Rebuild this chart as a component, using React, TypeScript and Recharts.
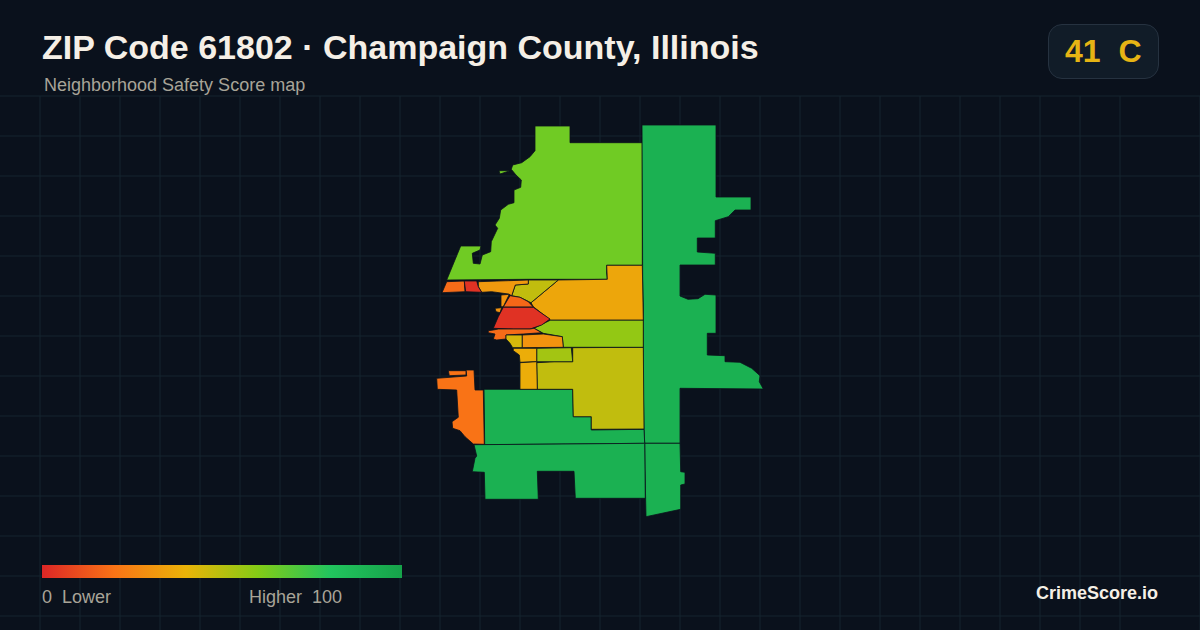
import React from 'react';
import { ScatterChart, Scatter, XAxis, YAxis, CartesianGrid } from 'recharts';

type Pt = [number, number];

// outlines, in map units
const northLime: Pt[] = [[535,126],[570,126],[570,142.7],[642.3,142.7],[642.3,265.3],[606.7,265.3],[606.7,273],[607.3,279.3],[528.3,279.3],[446.7,280],[460.7,246],[481,246],[480,250],[472.3,253.3],[473.3,263.3],[480,264],[482.3,255],[490.7,251.7],[491.3,241.7],[497.7,228.3],[495,225],[499.3,218.3],[500.7,210],[508.3,204.3],[514,202.7],[514,190],[520.7,187.3],[521.3,180],[516,175],[511.3,169.3],[512.7,165],[521.7,162.7],[530,156.7],[535,150.7]];
const limeIsland: Pt[] = [[499,170.7],[510,170.7],[500,174]];
const eastGreen: Pt[] = [[642,125],[716,125],[716,197],[751,197],[751,210],[735,210],[728.3,216.7],[715.3,220.7],[715.3,238],[697.3,238],[697.3,252],[715.3,253.3],[715.3,265],[680,265],[680,296],[688,299.3],[698,298.7],[705,294.3],[716,295],[716,333.3],[707.3,333.3],[707.3,355],[725,355.7],[725,361.7],[740,362.3],[751.7,368.3],[760,375.7],[759.3,381.7],[763.3,389],[680,388.3],[680,443.3],[644.7,443.3],[644,429],[643.3,388.3],[643.3,310],[642.7,280]];
const southEastGreen: Pt[] = [[644.7,443.3],[680,443.3],[680.7,471.7],[685,472.3],[685,484],[680.7,485],[680.7,509.3],[646,516.7],[645,470]];
const midGreen: Pt[] = [[484,389.3],[572.7,389.3],[573.3,416.7],[591.3,416.7],[591.3,430],[644,429.3],[644.7,443.3],[565,444],[484.7,444.7]];
const southGreen: Pt[] = [[474,444.7],[565,444],[644.7,443.3],[645.3,498.3],[575.3,498.3],[574,471.3],[537.3,471.3],[538.3,499.3],[485,499.3],[484.3,472.3],[472.3,471.7],[475,458.3],[476.7,456]];
const westOrange: Pt[] = [[474,370],[475,390],[483.3,390],[484.3,444.3],[473.3,444],[465,436.7],[460,430.7],[452.7,428.3],[452,421.7],[458.3,417.3],[456.7,390],[437.3,389.3],[436.7,378.3],[466.7,376],[466,370]];
const westOrangeTop: Pt[] = [[448.3,370.7],[466,370.7],[466,375],[449.3,375.7]];
const southOlive: Pt[] = [[572.7,347.7],[643.3,347.3],[644,429],[591.3,429.3],[591.3,416.7],[573.3,416.7],[572.7,389.3],[537.3,389.3],[536.7,362.7],[554.3,361.7],[572.7,361.7]];
const smallBox: Pt[] = [[536.7,348.3],[571.3,347.7],[572.7,361.7],[536.7,361.7]];
const limeBand: Pt[] = [[550.7,320],[643.3,320],[643.3,347.3],[563.3,347.3],[562.3,336.7],[543.3,333.3],[534,328.3]];
const amberBig: Pt[] = [[606.7,265.3],[642.3,265.3],[643.3,320],[550.7,320],[541.7,313.3],[533.3,306.7],[531,302.7],[558.3,280],[607.3,279.3]];
const oliveWedge: Pt[] = [[528.3,280],[558.3,280],[531,302.7],[520,297.3],[511.7,295.7],[515.3,285],[528.3,284]];
const amberStrip: Pt[] = [[478.3,281.7],[528.3,280],[528.3,284],[515.3,285],[511.7,295.7],[508.3,294],[491.7,291.7],[481.7,292.3],[478.3,286.7]];
const farWestOrange: Pt[] = [[446.7,281.7],[464.3,281],[465,291.7],[442,292.7]];
const farWestRed: Pt[] = [[464.3,281],[476.7,281],[478.3,286.7],[481.7,292.3],[465.7,291.7]];
const sliver: Pt[] = [[501,295],[509.3,294.3],[503.3,306.7],[501,306.7]];
const sliverTip: Pt[] = [[495,308.3],[501.7,307.7],[500,312.7],[496,311.7]];
const orangeCap: Pt[] = [[510,295.7],[520,297.3],[528.3,301.7],[533.3,307],[503.3,307]];
const coreRed: Pt[] = [[503.3,307.3],[533.3,307.3],[541.7,313.3],[550,319],[541.7,325],[530,329],[513.3,329],[493.3,328.3],[498.3,316.7]];
const belowRed: Pt[] = [[498.3,329],[530,329],[534,328.3],[541.7,332.7],[523.3,334],[506,335],[506,339],[496.7,340],[493.3,339],[495,334],[488.3,332.7],[488.3,330.7],[493.3,330]];
const yellowBlock: Pt[] = [[506,335],[522.3,335],[522.3,347.7],[512.7,347.7],[510,343.3],[506,339]];
const amberBox: Pt[] = [[522.3,335],[543.3,334],[562.3,336.7],[563.3,347.3],[522.3,347.7]];
const amberMid: Pt[] = [[513.3,348.3],[536.7,348.3],[536.7,361.7],[520,362.3],[519.3,355],[513.3,350.7]];
const amberLow: Pt[] = [[520,362.7],[536.7,361.7],[537.3,389.3],[520,389.3]];

const outlines = [northLime, limeIsland, eastGreen, southEastGreen, midGreen, southGreen, westOrange, westOrangeTop, southOlive, smallBox, limeBand, amberBig, oliveWedge, amberStrip, farWestOrange, farWestRed, sliver, sliverTip, orangeCap, coreRed, belowRed, yellowBlock, amberBox, amberMid, amberLow];
const scores = [64, 64, 92, 92, 92, 92, 20, 20, 48, 54, 57, 36, 48, 32, 18, 3, 30, 30, 17, 3, 18, 44, 30, 38, 38];

const gridX = Array.from({ length: 31 }, (_, i) => i * 40);
const gridY = Array.from({ length: 14 }, (_, i) => 96 + i * 40);

const scaleStops = [0, 20, 40, 60, 80, 100];
const scaleColors = ['#dc2626', '#f97316', '#eab308', '#84cc16', '#22c55e', '#16a34a'];

const hex = (c: string) => [1, 3, 5].map((i) => parseInt(c.slice(i, i + 2), 16));

const scoreColor = (score: number) => {
    const i = Math.min(Math.floor(score / 20), 4);
    const t = (score - scaleStops[i]) / 20;
    const a = hex(scaleColors[i]);
    const b = hex(scaleColors[i + 1]);
    const [r, g, bl] = a.map((v, k) => Math.round(v + (b[k] - v) * t));
    return `rgb(${r},${g},${bl})`;
};

const BG = '#0a111c';
const FONT = '"Liberation Sans", Arial, sans-serif';

const label = (style: React.CSSProperties): React.CSSProperties => ({
    position: 'absolute',
    fontFamily: FONT,
    whiteSpace: 'pre',
    lineHeight: 1,
    ...style,
});

// closes the scatter's joined points into a filled outline
const regionShape = (fill: string) => (props: any) => {
    const d = props.points.map((p: any, i: number) => `${i ? 'L' : 'M'}${p.x},${p.y}`).join('') + 'Z';
    return <path d={d} fill={fill} stroke={BG} strokeWidth={0.8} strokeLinejoin="round" />;
};

export default function App() {
    return (
        <div style={{ position: 'fixed', left: 0, top: 0, width: 1200, height: 630, background: BG, overflow: 'hidden' }}>
            <ScatterChart width={1200} height={630} margin={{ top: 0, right: 0, bottom: 0, left: 0 }} style={{ position: 'absolute', left: 0, top: 0 }}>
                <CartesianGrid y={96} height={534} x={0} width={1200} stroke="#15242f" strokeWidth={1} verticalValues={gridX} horizontalValues={gridY} />
                <XAxis type="number" dataKey="x" domain={[0, 1200]} hide />
                <YAxis type="number" dataKey="y" domain={[0, 630]} reversed hide />
                {outlines.map((outline, i) => (
                    <Scatter
                        key={i}
                        data={outline.map(([x, y]) => ({ x, y }))}
                        line={regionShape(scoreColor(scores[i]))}
                        shape={() => <g />}
                        isAnimationActive={false}
                    />
                ))}
            </ScatterChart>

            <div style={label({ left: 42, top: 30, fontSize: 34, fontWeight: 700, color: '#f5efe6' })}>ZIP Code 61802 · Champaign County, Illinois</div>
            <div style={label({ left: 44, top: 76, fontSize: 18, color: '#a8a498' })}>Neighborhood Safety Score map</div>

            <div style={{ position: 'absolute', left: 1048, top: 24, width: 109, height: 53, borderRadius: 14, background: '#111c28', border: '1px solid #263240' }} />
            <div style={label({ left: 1065, top: 35, fontSize: 32, fontWeight: 700, color: '#e6b414' })}>41  C</div>

            <div style={{ position: 'absolute', left: 42, top: 565, width: 360, height: 13, background: `linear-gradient(to right, ${scaleColors.map((c, i) => `${c} ${scaleStops[i]}%`).join(', ')})` }} />
            <div style={label({ left: 42, top: 588, fontSize: 18, color: '#a8a498' })}>0  Lower</div>
            <div style={label({ left: 249, top: 588, fontSize: 18, color: '#a8a498' })}>Higher  100</div>
            <div style={label({ right: 42, top: 584, fontSize: 18, fontWeight: 700, color: '#f5efe6' })}>CrimeScore.io</div>
        </div>
    );
}
